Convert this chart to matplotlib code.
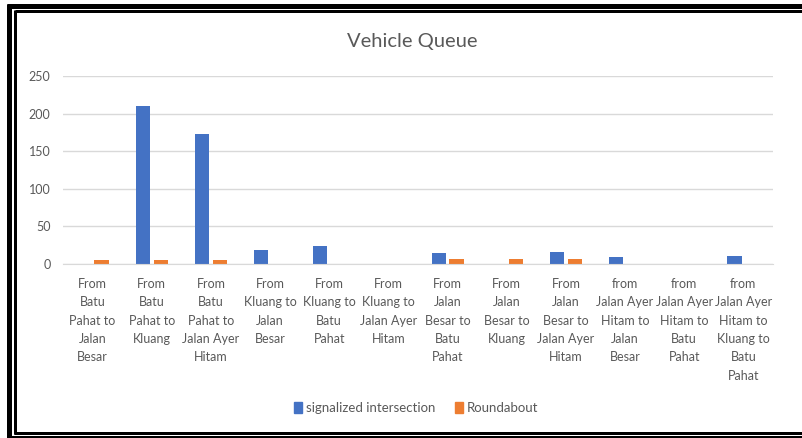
import matplotlib
matplotlib.use("Agg")
import matplotlib.pyplot as plt
import numpy as np
from matplotlib.lines import Line2D
from matplotlib.patches import Patch

categories = [
    "From\nBatu\nPahat to\nJalan\nBesar",
    "From\nBatu\nPahat to\nKluang",
    "From\nBatu\nPahat to\nJalan Ayer\nHitam",
    "From\nKluang to\nJalan\nBesar",
    "From\nKluang to\nBatu\nPahat",
    "From\nKluang to\nJalan Ayer\nHitam",
    "From\nJalan\nBesar to\nBatu\nPahat",
    "From\nJalan\nBesar to\nKluang",
    "From\nJalan\nBesar to\nJalan Ayer\nHitam",
    "from\nJalan Ayer\nHitam to\nJalan\nBesar",
    "from\nJalan Ayer\nHitam to\nBatu\nPahat",
    "from\nJalan Ayer\nHitam to\nKluang to\nBatu\nPahat",
]
signalized = [0, 210, 173, 18, 24, 0, 14, 0, 16, 9, 0, 11]
roundabout = [5, 5, 5, 0, 0, 0, 7, 7, 7, 0, 0, 0]

W, H = 803, 438
plt.rcParams['font.family'] = ['Lato', 'DejaVu Sans']
grey = '#595959'

fig = plt.figure(figsize=(W / 100, H / 100), dpi=100)
ax = fig.add_axes([63 / W, (H - 264) / H, 710 / W, 188 / H])

x = np.arange(len(categories))
bw = 0.24
ax.bar(x - 0.15, signalized, bw, color='#4472c4', label='signalized intersection')
ax.bar(x + 0.15, roundabout, bw, color='#ed7d31', label='Roundabout')

ax.set_xlim(-0.5, len(categories) - 0.5)
ax.set_ylim(0, 250)
ax.set_yticks(range(0, 251, 50))
ax.yaxis.grid(True, color='#d9d9d9', linewidth=1)
ax.set_axisbelow(True)
for s in ['top', 'right', 'left']:
    ax.spines[s].set_visible(False)
ax.spines['bottom'].set_color('#d9d9d9')
ax.tick_params(axis='both', length=0, colors=grey, labelsize=9)
ax.tick_params(axis='y', pad=9)
ax.tick_params(axis='x', pad=10)
ax.set_xticks(x)
ax.set_xticklabels(categories, linespacing=1.64)

fig.text(0.513, 1 - 42 / H, 'Vehicle Queue', ha='center', va='center',
         fontsize=14.5, color=grey)

handles = [Patch(color='#4472c4', label='signalized intersection'),
           Patch(color='#ed7d31', label='Roundabout')]
fig.legend(handles=handles, loc='center', bbox_to_anchor=(416 / W, 1 - 408 / H),
           ncol=2, frameon=False, fontsize=9.5, handlelength=0.6, handleheight=0.9,
           handletextpad=0.3, columnspacing=1.5, labelcolor=grey)

# double black frame around the chart
def line(x0, y0, x1, y1, lw):
    fig.add_artist(Line2D([x0 / W, x1 / W], [1 - y0 / H, 1 - y1 / H],
                          color='black', linewidth=lw * 0.72,
                          transform=fig.transFigure, solid_capstyle='butt'))

line(7, 6, W, 6, 5)
line(9.5, 4, 9.5, H, 5)
line(15, 11, W, 11, 3)
line(15, 10, 15, 434, 3)
line(14, 433, W, 433, 3)
line(7, 437, W, 437, 3)

fig.savefig('out.png', dpi=100)
